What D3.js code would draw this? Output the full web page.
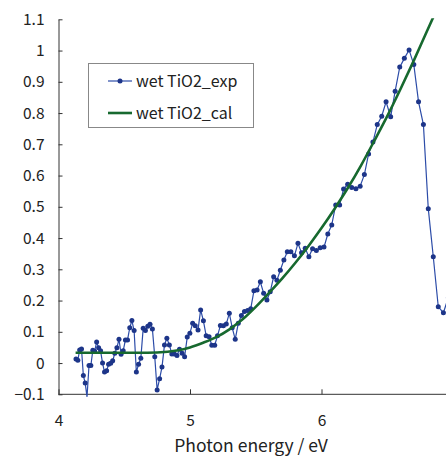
<!DOCTYPE html>
<html>
<head>
<meta charset="utf-8">
<script src="https://cdn.jsdelivr.net/npm/d3@7"></script>
<style>
  body { margin: 0; background: #fff; }
  svg { display: block; font-family: "Noto Sans CJK JP", "Noto Sans", sans-serif; }
  .fw { font-variant-east-asian: full-width; }
</style>
</head>
<body>
<svg id="chart" width="446" height="458"></svg>
<script>
// photon energy (eV) of the measured points
const expEnergy = [
  4.133, 4.147, 4.161, 4.175, 4.189, 4.203, 4.217, 4.232, 4.246, 4.261,
  4.275, 4.290, 4.305, 4.320, 4.335, 4.350, 4.366, 4.381, 4.397, 4.412,
  4.428, 4.444, 4.460, 4.476, 4.492, 4.509, 4.525, 4.542, 4.558, 4.575,
  4.592, 4.609, 4.626, 4.644, 4.661, 4.679, 4.696, 4.714, 4.732, 4.750,
  4.769, 4.787, 4.806, 4.824, 4.843, 4.862, 4.881, 4.901, 4.920, 4.940,
  4.959, 4.979, 4.999, 5.020, 5.040, 5.061, 5.081, 5.102, 5.123, 5.145,
  5.166, 5.188, 5.209, 5.231, 5.254, 5.276, 5.299, 5.321, 5.344, 5.367,
  5.391, 5.414, 5.438, 5.462, 5.486, 5.510, 5.535, 5.560, 5.585, 5.610,
  5.636, 5.661, 5.687, 5.714, 5.740, 5.767, 5.794, 5.821, 5.848, 5.876,
  5.904, 5.932, 5.961, 5.990, 6.019, 6.048, 6.078, 6.108, 6.138, 6.168,
  6.199, 6.230, 6.262, 6.294, 6.326, 6.358, 6.391, 6.424, 6.458, 6.491,
  6.526, 6.560, 6.595, 6.630, 6.666, 6.702, 6.738, 6.775, 6.812, 6.850,
  6.888, 6.927, 6.965
];
const expValue = [
  0.013, 0.009, 0.042, 0.045, -0.040, -0.064, -0.108, -0.008, -0.008, 0.041,
  0.038, 0.067, 0.049, 0.039, 0.000, -0.029, -0.025, -0.004, -0.001, 0.007,
  0.031, 0.049, 0.076, 0.028, 0.039, 0.074, 0.074, 0.113, 0.136, 0.104,
  -0.029, -0.004, 0.015, 0.111, 0.104, 0.118, 0.124, 0.109, 0.020, -0.086,
  -0.050, -0.013, 0.058, 0.079, 0.058, 0.029, 0.029, 0.024, 0.044, 0.031,
  0.020, 0.083, 0.095, 0.127, 0.119, 0.106, 0.170, 0.135, 0.087, 0.084,
  0.057, 0.057, 0.087, 0.120, 0.119, 0.125, 0.159, 0.113, 0.076, 0.127,
  0.152, 0.165, 0.168, 0.174, 0.231, 0.234, 0.260, 0.223, 0.202, 0.228,
  0.276, 0.265, 0.297, 0.330, 0.356, 0.356, 0.343, 0.383, 0.353, 0.367,
  0.340, 0.366, 0.360, 0.369, 0.371, 0.413, 0.442, 0.506, 0.506, 0.557,
  0.572, 0.562, 0.558, 0.566, 0.603, 0.669, 0.707, 0.763, 0.790, 0.836,
  0.788, 0.870, 0.947, 0.975, 1.002, 0.955, 0.836, 0.763, 0.494, 0.340,
  0.180, 0.161, 0.210
];

// calculated curve
const calEnergy = [4.13, 4.40, 4.60, 4.75, 4.90, 5.00, 5.10, 5.20, 5.30, 5.40,
  5.50, 5.60, 5.70, 5.80, 5.90, 6.00, 6.10, 6.20, 6.30, 6.40,
  6.50, 6.60, 6.70, 6.80, 6.86];
const calValue = [0.033, 0.033, 0.033, 0.034, 0.040, 0.050, 0.065, 0.083, 0.108, 0.140,
  0.180, 0.224, 0.270, 0.320, 0.374, 0.432, 0.494, 0.560, 0.632, 0.710,
  0.790, 0.876, 0.966, 1.060, 1.116];

const xTicks = [4, 5, 6];
const yTicks = [-0.1, 0, 0.1, 0.2, 0.3, 0.4, 0.5, 0.6, 0.7, 0.8, 0.9, 1, 1.1];
const yTickLabels = ["\u22120.1", "0", "0.1", "0.2", "0.3", "0.4", "0.5", "0.6", "0.7", "0.8", "0.9", "1", "1.1"];
const seriesNames = ["wet TiO2_exp", "wet TiO2_cal"];

const expColor = "#2c4ca8";
const markColor = "#1d3589";
const calColor = "#17692f";
const axisColor = "#333";

const svg = d3.select("#chart");

const plotLeft = 58.5, plotTop = 19.3, plotBottom = 394.3;
const x = d3.scaleLinear().domain([4, 7]).range([plotLeft, plotLeft + 3 * 131.5]);
const y = d3.scaleLinear().domain([-0.1, 1.1]).range([plotBottom, plotTop]);

svg.append("rect").attr("width", 446).attr("height", 458).attr("fill", "#fff");

// clip regions
const defs = svg.append("defs");
defs.append("clipPath").attr("id", "clipLine")
  .append("rect").attr("x", plotLeft).attr("y", plotTop - 1)
  .attr("width", 446 - plotLeft).attr("height", plotBottom - plotTop + 4);
defs.append("clipPath").attr("id", "clipMark")
  .append("rect").attr("x", plotLeft).attr("y", plotTop - 3)
  .attr("width", 446 - plotLeft).attr("height", plotBottom - plotTop + 3);

// axes
const xAxis = svg.append("g")
  .attr("transform", `translate(0,${plotBottom})`)
  .call(d3.axisBottom(x).tickValues(xTicks).tickSizeInner(-5).tickSizeOuter(0).tickPadding(20.5)
    .tickFormat(d3.format("d")));
xAxis.select(".domain").attr("d", `M${plotLeft},0H446`);

const yAxis = svg.append("g")
  .attr("transform", `translate(${plotLeft},0)`)
  .call(d3.axisLeft(y).tickValues(yTicks).tickSizeInner(-4).tickSizeOuter(0).tickPadding(14)
    .tickFormat((d, i) => yTickLabels[i]));

[xAxis, yAxis].forEach((g) => {
  g.selectAll("path, line").attr("stroke", axisColor).attr("stroke-width", 1);
  g.selectAll("text").attr("fill", "#222").style("font-size", "15.5px")
    .style("font-family", '"Noto Sans CJK JP", "Noto Sans", sans-serif');
});

// the minus sign is drawn full width, like the original
yAxis.selectAll(".tick text")
  .filter((d, i) => yTickLabels[i].startsWith("\u2212"))
  .each(function (d, i, nodes) {
    const t = d3.select(this);
    const label = t.text();
    t.text(null);
    t.append("tspan").attr("class", "fw").text(label.charAt(0));
    t.append("tspan").text(label.slice(1));
  });

svg.append("text")
  .attr("x", 251).attr("y", 452)
  .attr("text-anchor", "middle")
  .attr("fill", "#222")
  .style("font-size", "17.5px")
  .text("Photon energy / eV");

// experimental series
const expData = expEnergy.map((e, i) => ({ e, v: expValue[i] }));
const calData = calEnergy.map((e, i) => ({ e, v: calValue[i] }));

const line = d3.line().x((d) => x(d.e)).y((d) => y(d.v));

svg.append("path")
  .datum(expData)
  .attr("clip-path", "url(#clipLine)")
  .attr("fill", "none")
  .attr("stroke", expColor)
  .attr("stroke-width", 1.2)
  .attr("d", line);

svg.append("g")
  .attr("clip-path", "url(#clipMark)")
  .selectAll("circle")
  .data(expData)
  .join("circle")
  .attr("cx", (d) => x(d.e))
  .attr("cy", (d) => y(d.v))
  .attr("r", 2.5)
  .attr("fill", markColor);

// calculated curve
svg.append("path")
  .datum(calData)
  .attr("clip-path", "url(#clipLine)")
  .attr("fill", "none")
  .attr("stroke", calColor)
  .attr("stroke-width", 2.6)
  .attr("d", line.curve(d3.curveMonotoneX));

// legend
const legend = svg.append("g");
legend.append("rect")
  .attr("x", 88.5).attr("y", 63.5).attr("width", 165).attr("height", 64)
  .attr("fill", "#fff").attr("stroke", "#888").attr("stroke-width", 1);

const items = legend.selectAll("g.item")
  .data(seriesNames)
  .join("g")
  .attr("class", "item")
  .attr("transform", (d, i) => `translate(0,${81 + i * 32})`);

items.append("line")
  .attr("x1", 108).attr("x2", 132)
  .attr("stroke", (d, i) => (i === 0 ? expColor : calColor))
  .attr("stroke-width", (d, i) => (i === 0 ? 1.2 : 2.6));

items.filter((d, i) => i === 0).append("circle")
  .attr("cx", 120).attr("r", 2.5).attr("fill", markColor);

items.append("text")
  .attr("x", 136).attr("y", 5.5)
  .attr("fill", "#222")
  .style("font-size", "16px")
  .text((d) => d);
</script>
</body>
</html>
